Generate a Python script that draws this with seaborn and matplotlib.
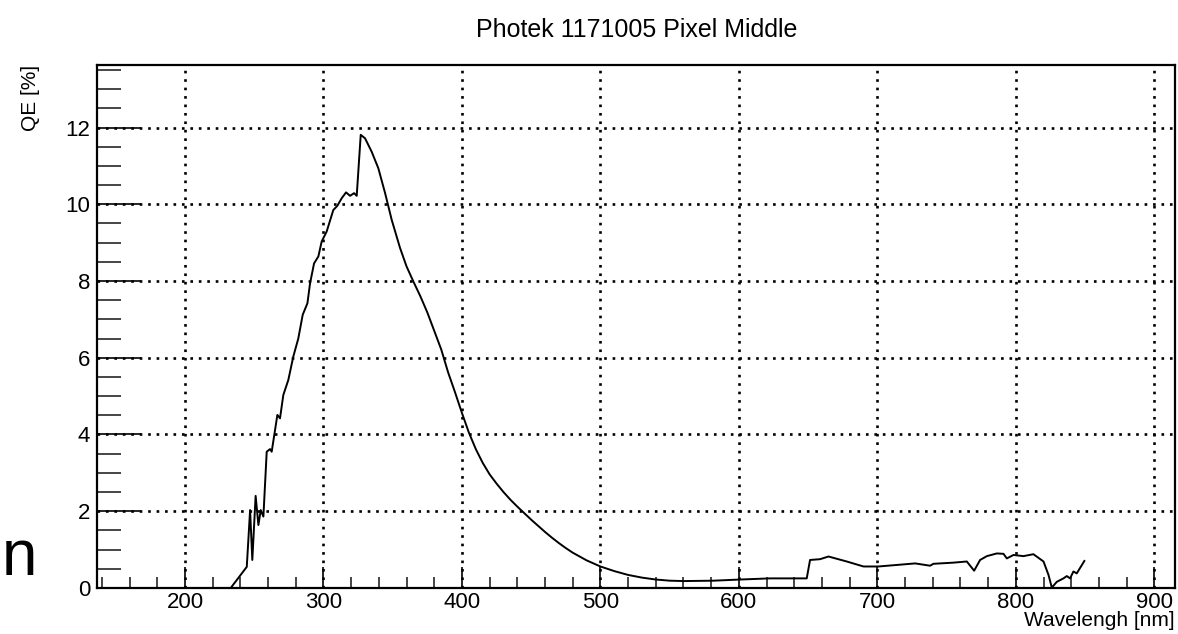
import pandas as pd
import numpy as np
from matplotlib import pyplot as plt
from matplotlib.ticker import MultipleLocator
import seaborn as sns

sns.set_theme(style="white", context="paper")
plt.rcParams['font.family'] = ['Liberation Sans', 'DejaVu Sans']

# Wavelength [nm] and QE [%]
wavelength = [233, 244.6, 247, 248.6, 251, 253, 254.7, 256.6, 259, 261.4,
              262.6, 266.7, 268.6, 271, 274.6, 278.2, 281.8, 285, 288.4, 290.3,
              293.2, 296.3, 298.7, 302.3, 307.1, 310, 313.2, 316.3, 319.2, 322.1,
              324, 326.9, 330, 334.8, 339.6, 344.5, 349.3, 355.3, 360, 365,
              370, 375, 380, 385, 390, 395, 400, 405, 410, 415,
              420, 425, 430, 435, 440, 445, 450, 455, 460, 465,
              470, 475, 480, 490, 500, 510, 520, 530, 540, 550,
              560, 581.6, 600.9, 622.5, 649, 651.4, 658.6, 664.7, 677.9, 690,
              700.8, 714.1, 727.3, 738.1, 740.5, 754.9, 764.6, 769.9, 774.2, 779.1,
              786.3, 791.1, 793.5, 798.3, 805.5, 812.7, 820, 823.6, 826, 829.6,
              834.4, 836.8, 839.2, 841.6, 844, 849.6]
qe = [0.0, 0.55, 2.03, 0.73, 2.4, 1.64, 2.03, 1.86, 3.55, 3.62,
      3.55, 4.51, 4.42, 5.03, 5.42, 6.03, 6.5, 7.12, 7.42, 7.94,
      8.46, 8.64, 9.03, 9.29, 9.85, 9.96, 10.16, 10.31, 10.22, 10.29,
      10.22, 11.81, 11.72, 11.37, 10.94, 10.29, 9.59, 8.86, 8.38, 7.98,
      7.6, 7.18, 6.7, 6.22, 5.62, 5.1, 4.56, 4.05, 3.62, 3.26,
      2.96, 2.72, 2.5, 2.3, 2.12, 1.95, 1.78, 1.62, 1.46, 1.31,
      1.17, 1.04, 0.92, 0.72, 0.56, 0.44, 0.34, 0.27, 0.22, 0.19,
      0.18, 0.19, 0.22, 0.25, 0.25, 0.73, 0.75, 0.82, 0.69, 0.56,
      0.56, 0.6, 0.64, 0.58, 0.63, 0.66, 0.69, 0.45, 0.73, 0.83,
      0.9, 0.89, 0.77, 0.86, 0.83, 0.88, 0.69, 0.34, 0.01, 0.16,
      0.25, 0.31, 0.25, 0.43, 0.38, 0.71]

df = pd.DataFrame({"Wavelength": wavelength, "QE": qe})

fig = plt.figure(figsize=(11.78, 6.34), dpi=100)
ax = fig.add_axes([0.0823, 0.0726, 0.9152, 0.8249])

sns.lineplot(data=df, x="Wavelength", y="QE", color="black",
             linewidth=1.4, ax=ax, sort=False)

ax.set_xlim(136.4, 915)
ax.set_ylim(0, 13.63)

# Ticks, ROOT style (inward, left/bottom only)
ax.xaxis.set_major_locator(MultipleLocator(100))
ax.xaxis.set_minor_locator(MultipleLocator(20))
ax.yaxis.set_major_locator(MultipleLocator(2))
ax.yaxis.set_minor_locator(MultipleLocator(0.5))
ax.tick_params(axis='x', which='major', direction='in', length=15, width=1.2,
               labelsize=16, colors='black', pad=3, bottom=True)
ax.tick_params(axis='x', which='minor', direction='in', length=8, width=1.2,
               bottom=True)
ax.tick_params(axis='y', which='major', direction='in', length=32, width=1.2,
               labelsize=16, colors='black', pad=5, left=True)
ax.tick_params(axis='y', which='minor', direction='in', length=17, width=1.2,
               left=True)

# Dotted grid at major ticks
ax.grid(True, which='major', color='black', linestyle=(0, (1, 2.2)),
        linewidth=1.9)

for side in ['top', 'right', 'bottom', 'left']:
    ax.spines[side].set_visible(True)
    ax.spines[side].set_color('black')
    ax.spines[side].set_linewidth(1.6)

ax.set_xlabel("")
ax.set_ylabel("")

# Axis titles placed ROOT-like (right / top aligned)
fig.text(1175 / 1178, 1 - 621 / 634, "Wavelengh [nm]", ha='right', va='center',
         fontsize=15, color='black')
fig.text(31 / 1178, 1 - 65 / 634, "QE [%]", ha='center', va='top',
         rotation=90, fontsize=15, color='black')

fig.text(637 / 1178, 1 - 30 / 634, "Photek 1171005 Pixel Middle",
         ha='center', va='center', fontsize=18, color='black')

# Stray clipped glyph at the left edge
fig.text(2 / 1178, 1 - 558 / 634, "n", ha='left', va='center',
         fontsize=46, color='black')

fig.savefig("out.png", dpi=100)
